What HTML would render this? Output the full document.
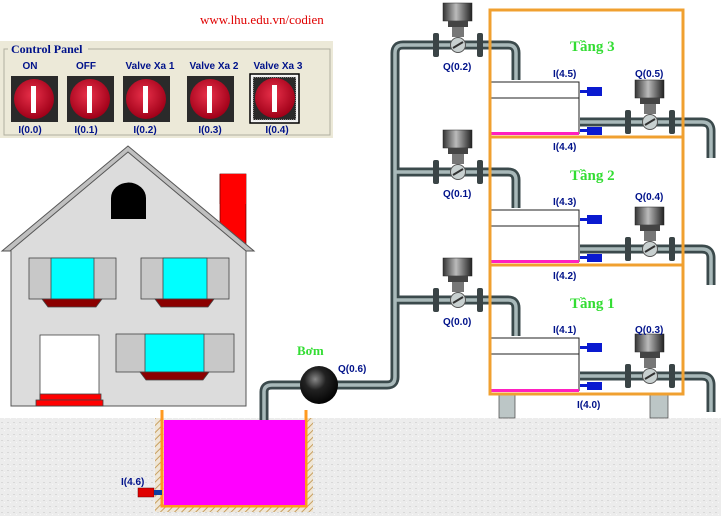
<!DOCTYPE html>
<html><head><meta charset="utf-8"><style>
html,body{margin:0;padding:0;background:#fff;}
svg{display:block;font-family:"Liberation Sans",sans-serif;}
.lb{font-family:"Liberation Sans",sans-serif;font-weight:bold;font-size:10px;fill:#00128a;}
.tg{font-family:"Liberation Serif",serif;font-weight:bold;font-size:15px;fill:#33dd33;}
</style></head><body>
<svg width="721" height="516" viewBox="0 0 721 516" xmlns="http://www.w3.org/2000/svg">
<defs>
<pattern id="gr" width="6" height="6" patternUnits="userSpaceOnUse">
<rect width="6" height="6" fill="#ececec"/><rect x="1" y="2" width="2" height="1" fill="#d8d8d8"/><rect x="4" y="4" width="1" height="1" fill="#f8f8f8"/>
</pattern>
<pattern id="ht" width="5" height="5" patternUnits="userSpaceOnUse" patternTransform="rotate(45)">
<rect width="5" height="5" fill="#efe6d6"/><rect width="1" height="5" fill="#c8a060"/>
</pattern>
<radialGradient id="pump" cx="0.4" cy="0.35" r="0.7"><stop offset="0" stop-color="#888"/><stop offset="0.4" stop-color="#222"/><stop offset="1" stop-color="#000"/></radialGradient>
<linearGradient id="act" x1="0" x2="1"><stop offset="0" stop-color="#333"/><stop offset="0.45" stop-color="#bbb"/><stop offset="1" stop-color="#222"/></linearGradient>
<radialGradient id="btn" cx="0.45" cy="0.4" r="0.6"><stop offset="0" stop-color="#e8304a"/><stop offset="1" stop-color="#a00018"/></radialGradient>
<g id="valve">
<rect x="-15" y="-42" width="29" height="18" fill="url(#act)" stroke="#222" stroke-width="0.5"/>
<rect x="-10" y="-24" width="20" height="6" fill="#444"/>
<rect x="-6" y="-18" width="12" height="10" fill="#777"/>
<rect x="-25" y="-12" width="6" height="24" rx="2" fill="#3a4446"/>
<rect x="19" y="-12" width="6" height="24" rx="2" fill="#3a4446"/>
<circle r="7.5" fill="#c8d0d0" stroke="#555"/>
<line x1="-5" y1="3" x2="5" y2="-3" stroke="#333" stroke-width="2"/>
</g>
</defs>

<!-- ground -->
<rect x="0" y="418" width="721" height="98" fill="url(#gr)"/>
<!-- tank -->
<rect x="155" y="418" width="7" height="94" fill="url(#ht)"/>
<rect x="306" y="418" width="7" height="94" fill="url(#ht)"/>
<rect x="155" y="506" width="158" height="6" fill="url(#ht)"/>
<rect x="162" y="410" width="144" height="96" fill="none" stroke="#ff9a20" stroke-width="3"/>
<rect x="160" y="408" width="148" height="10" fill="#fff"/>
<line x1="162" y1="410" x2="162" y2="506" stroke="#ff9a20" stroke-width="3"/>
<line x1="306" y1="410" x2="306" y2="506" stroke="#ff9a20" stroke-width="3"/>
<rect x="164" y="420" width="141" height="85" fill="#ff00ff"/>
<rect x="138" y="488" width="16" height="9" fill="#e00000" stroke="#600" stroke-width="0.5"/>
<rect x="154" y="490" width="8" height="5" fill="#1040a0"/>
<text class="lb" x="121" y="485">I(4.6)</text>

<!-- title -->
<text x="200" y="24" font-family="Liberation Serif,serif" font-size="13" fill="#e00000">www.lhu.edu.vn/codien</text>

<!-- control panel -->
<rect x="0" y="41" width="333" height="97" fill="#ece9d8"/>
<rect x="4" y="49" width="326" height="86" fill="none" stroke="#b0ae9f" stroke-width="1"/>
<rect x="8" y="42" width="80" height="13" fill="#ece9d8"/>
<text x="11" y="53" font-family="Liberation Serif,serif" font-weight="bold" font-size="12" fill="#00128a">Control Panel</text>
<g class="lb">
<text x="30" y="69" text-anchor="middle">ON</text>
<text x="86" y="69" text-anchor="middle">OFF</text>
<text x="150" y="69" text-anchor="middle">Valve Xa 1</text>
<text x="214" y="69" text-anchor="middle">Valve Xa 2</text>
<text x="278" y="69" text-anchor="middle">Valve Xa 3</text>
<text x="30" y="133" text-anchor="middle">I(0.0)</text>
<text x="86" y="133" text-anchor="middle">I(0.1)</text>
<text x="145" y="133" text-anchor="middle">I(0.2)</text>
<text x="210" y="133" text-anchor="middle">I(0.3)</text>
<text x="277" y="133" text-anchor="middle">I(0.4)</text>
</g>
<g>
<rect x="11" y="76" width="47" height="46" fill="#2a2a2a"/><circle cx="34" cy="99" r="20" fill="url(#btn)"/><rect x="31" y="86" width="5" height="27" fill="#fff"/>
<rect x="67" y="76" width="47" height="46" fill="#2a2a2a"/><circle cx="90" cy="99" r="20" fill="url(#btn)"/><rect x="87" y="86" width="5" height="27" fill="#fff"/>
<rect x="123" y="76" width="47" height="46" fill="#2a2a2a"/><circle cx="146" cy="99" r="20" fill="url(#btn)"/><rect x="143" y="86" width="5" height="27" fill="#fff"/>
<rect x="187" y="76" width="47" height="46" fill="#2a2a2a"/><circle cx="210" cy="99" r="20" fill="url(#btn)"/><rect x="207" y="86" width="5" height="27" fill="#fff"/>
<rect x="250" y="74" width="49" height="49" fill="#f4f4f4" stroke="#000" stroke-width="1.5"/>
<rect x="253" y="77" width="43" height="43" fill="#2a2a2a" stroke="#ddd" stroke-dasharray="1 1"/><circle cx="275" cy="98" r="20" fill="url(#btn)"/><rect x="272" y="85" width="5" height="27" fill="#fff"/>
</g>

<!-- house -->
<rect x="220" y="174" width="26" height="70" fill="#ff0000" stroke="#600" stroke-width="0.7"/>
<polygon points="11,245 128,147 246,245 246,406 11,406" fill="#dcdcdc" stroke="#555"/>
<polygon points="2,251 128,146 254,251 246,251 128,152 10,251" fill="#c0c0c0" stroke="#555"/>
<rect x="220" y="174" width="26" height="30" fill="#ff0000"/>
<line x1="220" y1="174" x2="220" y2="204" stroke="#600" stroke-width="0.7"/>
<path d="M111,219 V198 A17,15 0 0 1 146,198 V219 Z" fill="#000"/>
<g stroke="#444" stroke-width="0.8">
<rect x="29" y="258" width="87" height="41" fill="#c8c8c8"/><rect x="51" y="258" width="43" height="41" fill="#00ffff"/>
<polygon points="42,299 102,299 96,307 48,307" fill="#8b0000"/>
<rect x="141" y="258" width="88" height="41" fill="#c8c8c8"/><rect x="163" y="258" width="44" height="41" fill="#00ffff"/>
<polygon points="155,299 214,299 208,307 161,307" fill="#8b0000"/>
<rect x="116" y="334" width="118" height="38" fill="#c8c8c8"/><rect x="145" y="334" width="59" height="38" fill="#00ffff"/>
<polygon points="140,372 209,372 203,380 146,380" fill="#8b0000"/>
<rect x="40" y="335" width="59" height="65" fill="#fff"/>
<rect x="40" y="394" width="61" height="6" fill="#ff0000"/>
<rect x="36" y="400" width="67" height="6" fill="#ff0000"/>
</g>

<!-- pipes -->
<g fill="none" stroke-linejoin="round">
<g stroke="#3b4a4c" stroke-width="9">
<path d="M264,420 V392 Q264,385 272,385 H387 Q395,385 395,377 V53 Q395,45 403,45 H508 Q516,45 516,53 V80"/>
<path d="M395,172 H508 Q516,172 516,180 V208"/>
<path d="M395,300 H508 Q516,300 516,308 V336"/>
<path d="M580,122 H702 Q711,122 711,131 V158"/>
<path d="M580,249 H702 Q711,249 711,258 V285"/>
<path d="M580,376 H702 Q711,376 711,385 V412"/>
</g>
<g stroke="#a9b9ba" stroke-width="3.5">
<path d="M264,420 V392 Q264,385 272,385 H387 Q395,385 395,377 V53 Q395,45 403,45 H508 Q516,45 516,53 V80"/>
<path d="M395,172 H508 Q516,172 516,180 V208"/>
<path d="M395,300 H508 Q516,300 516,308 V336"/>
<path d="M580,122 H702 Q711,122 711,131 V158"/>
<path d="M580,249 H702 Q711,249 711,258 V285"/>
<path d="M580,376 H702 Q711,376 711,385 V412"/>
</g>
</g>
<!-- supports -->
<g fill="#bcc6c6" stroke="#444" stroke-width="0.7">
<rect x="499" y="394" width="16" height="24"/><rect x="650" y="394" width="18" height="24"/>
</g>
<!-- pump -->
<circle cx="319" cy="385" r="19" fill="url(#pump)"/>
<text x="297" y="355" font-family="Liberation Serif,serif" font-weight="bold" font-size="13" fill="#33dd33">Bơm</text>
<text class="lb" x="338" y="372">Q(0.6)</text>

<!-- valves -->
<use href="#valve" x="458" y="45"/>
<use href="#valve" x="458" y="172"/>
<use href="#valve" x="458" y="300"/>
<use href="#valve" x="650" y="122"/>
<use href="#valve" x="650" y="249"/>
<use href="#valve" x="650" y="376"/>
<g class="lb">
<text x="443" y="70">Q(0.2)</text><text x="443" y="197">Q(0.1)</text><text x="443" y="325">Q(0.0)</text>
<text x="635" y="77">Q(0.5)</text><text x="635" y="200">Q(0.4)</text><text x="635" y="333">Q(0.3)</text>
<text x="553" y="77">I(4.5)</text><text x="553" y="150">I(4.4)</text>
<text x="553" y="205">I(4.3)</text><text x="553" y="279">I(4.2)</text>
<text x="553" y="333">I(4.1)</text><text x="577" y="408">I(4.0)</text>
</g>

<!-- floor tanks -->
<g stroke="#222" stroke-width="1" fill="#fff">
<path d="M490,82 H579 V134 M490,98 H579"/>
<path d="M490,210 H579 V262 M490,226 H579"/>
<path d="M490,338 H579 V391 M490,354 H579"/>
</g>
<g fill="#ff20c0"><rect x="491" y="132" width="88" height="3"/><rect x="491" y="260" width="88" height="3"/><rect x="491" y="389" width="88" height="3"/></g>
<g fill="#0a1ad0">
<rect x="587" y="87" width="15" height="9"/><rect x="580" y="90" width="7" height="3"/>
<rect x="587" y="127" width="15" height="8"/><rect x="580" y="129" width="7" height="3"/>
<rect x="587" y="215" width="15" height="9"/><rect x="580" y="218" width="7" height="3"/>
<rect x="587" y="254" width="15" height="8"/><rect x="580" y="256" width="7" height="3"/>
<rect x="587" y="343" width="15" height="9"/><rect x="580" y="346" width="7" height="3"/>
<rect x="587" y="382" width="15" height="8"/><rect x="580" y="384" width="7" height="3"/>
</g>
<!-- orange frame -->
<g fill="none" stroke="#f0a030" stroke-width="3">
<rect x="490" y="10" width="193" height="384"/>
<line x1="490" y1="137" x2="683" y2="137"/><line x1="490" y1="265" x2="683" y2="265"/>
</g>
<text class="tg" x="570" y="51">Tầng 3</text>
<text class="tg" x="570" y="180">Tầng 2</text>
<text class="tg" x="570" y="308">Tầng 1</text>
</svg>
</body></html>
